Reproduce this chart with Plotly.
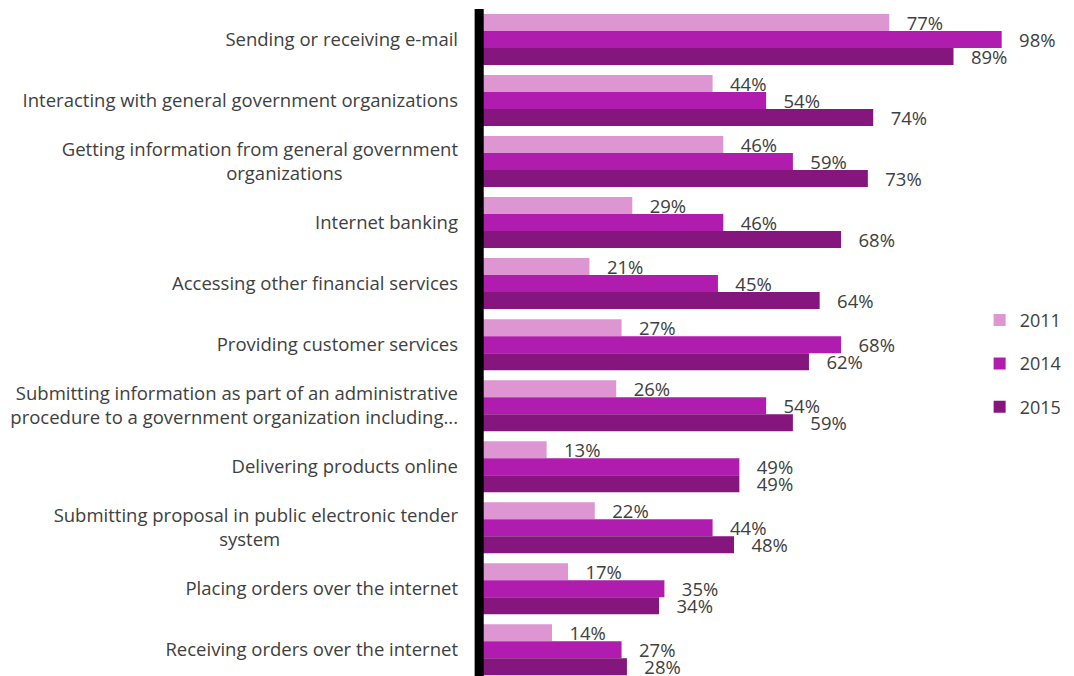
import plotly.graph_objects as go

NB = "\u00a0"

categories = [
    "Sending or receiving e-mail",
    "Interacting with general government organizations",
    "Getting information from general government<br>organizations" + NB * 24,
    "Internet banking",
    "Accessing other financial services",
    "Providing customer services",
    "Submitting information as part of an administrative<br>procedure to a government organization including...",
    "Delivering products online",
    "Submitting proposal in public electronic tender<br>system" + NB * 37,
    "Placing orders over the internet",
    "Receiving orders over the internet",
]

years = ["2011", "2014", "2015"]
v2011 = [77, 44, 46, 29, 21, 27, 26, 13, 22, 17, 14]
v2014 = [98, 54, 59, 46, 45, 68, 54, 49, 44, 35, 27]
v2015 = [89, 74, 73, 68, 64, 62, 59, 49, 48, 34, 28]
series = [v2011, v2014, v2015]
colors = ["#DD96D2", "#B01DAE", "#84167D"]

FONT = "Open Sans"
FS = 18.5
TXT = "#404040"

# page body has an 8px margin; figure coordinates are window coordinates minus 8
W, H = 1074, 668
plot_left = 461.4
plot_top = 1

fig = go.Figure()
for name, vals, col in zip(years, series, colors):
    fig.add_trace(go.Bar(
        y=categories, x=vals, name=name, orientation="h",
        marker=dict(color=col, line=dict(width=0)),
        texttemplate=NB * 3 + "%{x}%", textposition="outside",
        constraintext="none", cliponaxis=False,
        textfont=dict(family=FONT, size=FS, color=TXT),
        legendgroup=name,
    ))

fig.update_layout(
    width=W, height=H,
    margin=dict(l=plot_left, r=0, t=plot_top, b=0, pad=0, autoexpand=False),
    paper_bgcolor="white", plot_bgcolor="white",
    barmode="group", bargap=0.164, bargroupgap=0,
    font=dict(family=FONT, size=FS, color=TXT),
    showlegend=True,
    legend=dict(x=0.833, xanchor="left", y=0.468, yanchor="middle",
                traceorder="grouped", tracegroupgap=17,
                font=dict(family=FONT, size=18, color=TXT),
                bgcolor="rgba(0,0,0,0)"),
    xaxis=dict(range=[-1.5, 113.0], showgrid=False, zeroline=False,
               showticklabels=False, showline=False, fixedrange=True),
    yaxis=dict(categoryorder="array", categoryarray=categories,
               range=[10.43, -0.5], showgrid=False, zeroline=False,
               showline=False, ticks="", ticklabelstandoff=10,
               tickfont=dict(family=FONT, size=FS, color=TXT)),
    shapes=[dict(type="rect", xref="x", yref="paper", x0=-0.45, x1=1.25,
                 y0=0, y1=1.0, fillcolor="black", line=dict(width=0),
                 layer="above")],
)

fig.write_html("out.html")
